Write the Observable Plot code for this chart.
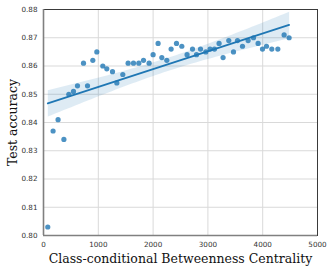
<!DOCTYPE html>
<html>
<head>
<meta charset="utf-8">
<script src="https://cdn.jsdelivr.net/npm/d3@7"></script>
<script src="https://cdn.jsdelivr.net/npm/@observablehq/plot@0.6"></script>
<style>
html, body { margin: 0; padding: 0; background: #fff; }
g[aria-label="x-axis label"] text, g[aria-label="y-axis label"] text {
  font-family: "DejaVu Serif", serif; font-size: 12.5px; fill: #111;
}
g[aria-label="x-axis tick label"] text, g[aria-label="y-axis tick label"] text {
  font-family: "DejaVu Sans", sans-serif; font-size: 7.2px; fill: #333;
}
</style>
</head>
<body>
<div id="chart"></div>
<script>
const centrality = [78,175,266,372,462,547,620,730,803,900,973,1082,1155,1259,1338,1447,1544,1642,1739,1825,1927,2000,2091,2159,2250,2329,2427,2524,2620,2719,2792,2865,2962,3040,3120,3204,3277,3381,3467,3540,3631,3734,3832,3916,3996,4069,4166,4276,4391,4482];
const accuracy = [0.803,0.837,0.841,0.834,0.850,0.851,0.853,0.861,0.853,0.862,0.865,0.860,0.859,0.858,0.854,0.857,0.861,0.861,0.861,0.862,0.861,0.864,0.868,0.863,0.862,0.866,0.868,0.867,0.864,0.866,0.864,0.866,0.865,0.866,0.866,0.868,0.863,0.869,0.865,0.869,0.867,0.869,0.870,0.868,0.866,0.867,0.866,0.866,0.871,0.870];
const xTicks = [0,1000,2000,3000,4000,5000];
const yTicks = [0.80,0.81,0.82,0.83,0.84,0.85,0.86,0.87,0.88];

const data = centrality.map((x, i) => ({x, y: accuracy[i]}));

const chart = Plot.plot({
  width: 332,
  height: 272,
  marginLeft: 43,
  marginRight: 15,
  marginTop: 9,
  marginBottom: 37,
  style: {background: "#fff"},
  x: {domain: [0, 5000]},
  y: {domain: [0.80, 0.88]},
  marks: [
    Plot.gridX(xTicks, {stroke: "#d9d9d9", strokeOpacity: 1, strokeWidth: 1}),
    Plot.gridY(yTicks, {stroke: "#d9d9d9", strokeOpacity: 1, strokeWidth: 1}),
    Plot.axisX(xTicks, {tickSize: 0, tickPadding: 6, label: "Class-conditional Betweenness Centrality", labelAnchor: "center", labelArrow: "none", labelOffset: 27, tickFormat: d => String(d)}),
    Plot.axisY(yTicks, {tickSize: 0, tickPadding: 6, label: "Test accuracy", labelAnchor: "center", labelArrow: "none", labelOffset: 35, tickFormat: d3.format(".2f")}),
    Plot.linearRegressionY(data, {x: "x", y: "y", stroke: "#1f77b4", fill: "#1f77b4", fillOpacity: 0.15, strokeWidth: 1.8, ci: 0.95}),
    Plot.dot(data, {x: "x", y: "y", r: 2.6, fill: "#1f77b4", fillOpacity: 0.8, stroke: "none"}),
    Plot.frame({stroke: "#3a3a3a", strokeWidth: 1}),
    Plot.ruleX([0], {stroke: "#808080", strokeWidth: 1.6}),
    Plot.ruleY([0.80], {stroke: "#808080", strokeWidth: 1.6})
  ]
});
document.getElementById("chart").appendChild(chart);
</script>
</body>
</html>
